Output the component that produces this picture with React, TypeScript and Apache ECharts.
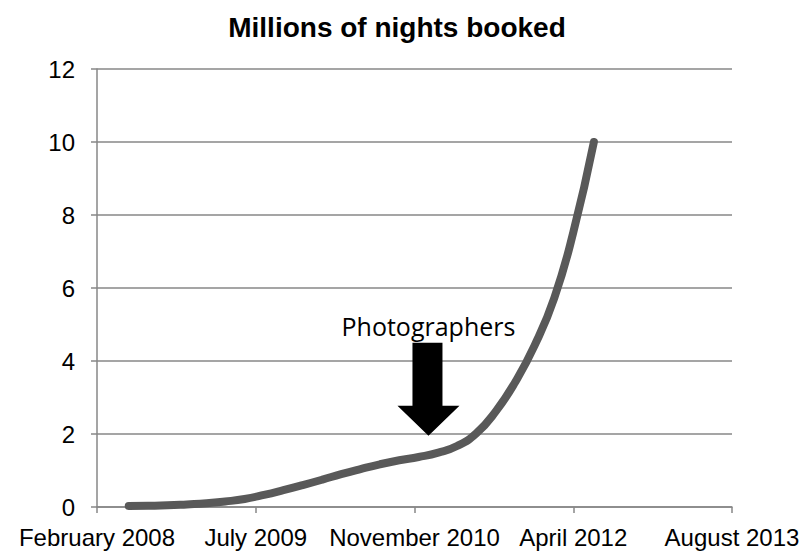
import React, { useEffect, useRef } from "react";
import * as echarts from "echarts";

const titleText = "Millions of nights booked";
const annotationText = "Photographers";

const dates = [
  "2008-06-01", "2008-08-01", "2008-10-01", "2008-12-01", "2009-02-01",
  "2009-04-01", "2009-06-01", "2009-08-01", "2009-10-01", "2009-12-01",
  "2010-02-01", "2010-04-01", "2010-06-01", "2010-08-01", "2010-10-01",
  "2010-12-01", "2011-02-01", "2011-04-01", "2011-06-01", "2011-08-01",
  "2011-10-01", "2011-12-01", "2012-02-01", "2012-04-01", "2012-06-05",
];
const nights = [
  0.03, 0.035, 0.045, 0.07, 0.1,
  0.15, 0.22, 0.33, 0.46, 0.6,
  0.75, 0.9, 1.04, 1.17, 1.28,
  1.37, 1.49, 1.67, 2.02, 2.62,
  3.42, 4.42, 5.72, 7.52, 10,
];

// x axis in spreadsheet day serials
const xMin = 39500;
const xMax = 41500;
const xInterval = 500;
const yMin = 0;
const yMax = 12;
const yInterval = 2;

const arrowDate = "2011-01-01";
const arrowValue = 1.95;

const monthNames = [
  "January", "February", "March", "April", "May", "June",
  "July", "August", "September", "October", "November", "December",
];

const toSerial = (s: string) => {
  const [y, m, d] = s.split("-").map(Number);
  return Date.UTC(y, m - 1, d) / 86400000 + 25569;
};
const serialLabel = (v: number) => {
  const dt = new Date((v - 25569) * 86400000);
  return monthNames[dt.getUTCMonth()] + " " + dt.getUTCFullYear();
};

export default function App() {
  const ref = useRef<HTMLDivElement>(null);
  useEffect(() => {
    document.body.style.margin = "0";
    document.body.style.overflow = "hidden";
    if (!ref.current) return;
    const chart = echarts.init(ref.current, undefined, { renderer: "svg" });
    const axisGray = "#878787";
    chart.setOption({
      animation: false,
      backgroundColor: "#ffffff",
      graphic: [
        {
          type: "text",
          x: 397,
          y: 27,
          style: {
            text: titleText,
            textAlign: "center",
            textVerticalAlign: "middle",
            font: "bold 28px 'Liberation Sans', Arial, sans-serif",
            fill: "#000",
          },
        },
      ],
      grid: { left: 97, right: 78, top: 69, bottom: 47, containLabel: false },
      xAxis: {
        type: "value",
        min: xMin,
        max: xMax,
        interval: xInterval,
        axisLine: { show: true, lineStyle: { color: axisGray, width: 1.5 } },
        axisTick: { show: true, length: 6, lineStyle: { color: axisGray, width: 1.5 } },
        splitLine: { show: false },
        axisLabel: {
          margin: 18,
          color: "#000",
          fontSize: 24,
          fontFamily: "'Liberation Sans', Arial, sans-serif",
          formatter: (v: number) => serialLabel(v),
          showMinLabel: true,
          showMaxLabel: true,
        },
      },
      yAxis: {
        type: "value",
        min: yMin,
        max: yMax,
        interval: yInterval,
        axisLine: { show: true, lineStyle: { color: axisGray, width: 1.5 } },
        axisTick: { show: true, inside: false, length: 6, lineStyle: { color: axisGray, width: 1.5 } },
        splitLine: { show: true, lineStyle: { color: axisGray, width: 1.5 } },
        axisLabel: {
          margin: 22,
          color: "#000",
          fontSize: 24,
          fontFamily: "'Liberation Sans', Arial, sans-serif",
        },
      },
      series: [
        {
          type: "line",
          data: dates.map((d, i) => [toSerial(d), nights[i]]),
          smooth: 0.5,
          showSymbol: false,
          symbol: "none",
          lineStyle: { color: "#595959", width: 8, cap: "round", join: "round" },
          markPoint: {
            silent: true,
            data: [
              {
                coord: [toSerial(arrowDate), arrowValue],
                symbol: "path://M15,0 L45,0 L45,63 L62,63 L31,93 L0,63 L15,63 Z",
                symbolSize: [62, 93],
                symbolOffset: [0, "-50%"],
                itemStyle: { color: "#000" },
                label: {
                  show: true,
                  position: "top",
                  distance: 4,
                  formatter: annotationText,
                  color: "#000",
                  fontSize: 25,
                  fontFamily: "'Open Sans', 'Noto Sans', sans-serif",
                },
              },
            ],
          },
        },
      ],
    });
    return () => chart.dispose();
  }, []);
  return <div ref={ref} style={{ width: 810, height: 554 }} />;
}
